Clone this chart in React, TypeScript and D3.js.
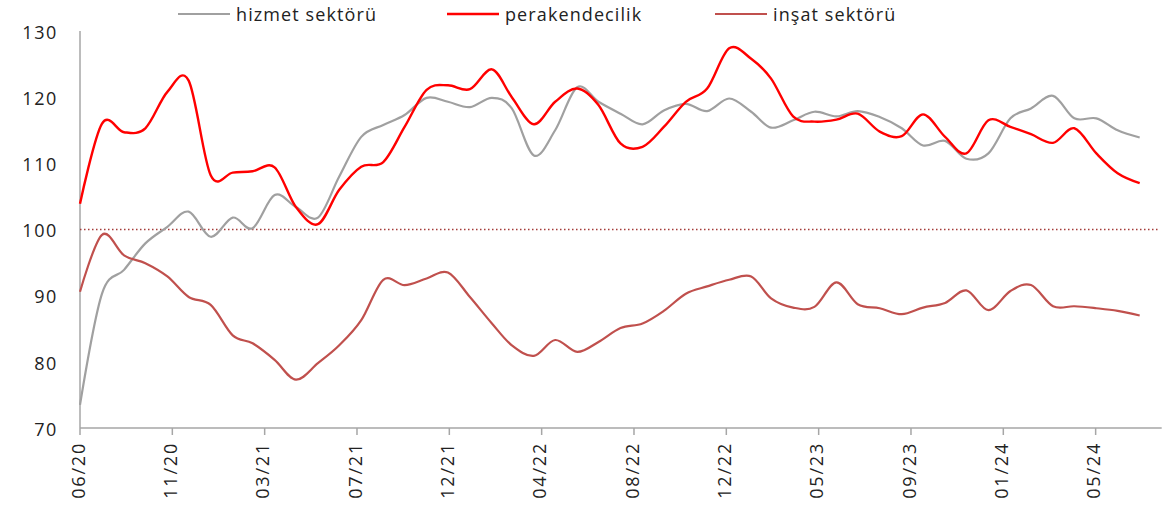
import React from "react";
import * as d3 from "d3";

// Monthly data, 06/2020 – 07/2024 (month-end dates)
const startYear = 2020;
const startMonth = 6; // June
const hizmet = [
  73.5, 90.3, 93.9, 97.9, 100.4, 102.7, 98.9, 101.8, 100.2, 105.2,
  103.4, 101.8, 108.0, 114.0, 115.8, 117.3, 119.9, 119.3, 118.5, 119.9,
  118.3, 111.2, 115.0, 121.5, 119.3, 117.5, 115.9, 118.0, 119.0, 117.9,
  119.8, 117.8, 115.4, 116.5, 117.8, 117.1, 117.9, 117.0, 115.3, 112.7,
  113.4, 110.7, 111.5, 116.8, 118.3, 120.2, 116.8, 116.8, 115.0, 113.9,
];
const perakende = [
  103.9, 116.0, 114.7, 115.3, 120.8, 122.5, 108.2, 108.6, 108.8, 109.4,
  103.4, 100.8, 106.0, 109.5, 110.2, 115.5, 121.1, 121.8, 121.2, 124.2,
  120.0, 115.9, 119.3, 121.3, 118.8, 113.0, 112.5, 115.5, 119.3, 121.3,
  127.4, 125.8, 122.8, 117.1, 116.3, 116.6, 117.5, 114.8, 114.1, 117.4,
  114.0, 111.5, 116.5, 115.5, 114.4, 113.1, 115.3, 111.5, 108.5, 107.0,
];
const insaat = [
  90.6, 99.2, 96.1, 94.9, 92.9, 89.8, 88.6, 84.0, 82.8, 80.3,
  77.3, 79.8, 82.5, 86.3, 92.4, 91.6, 92.6, 93.5, 89.8, 85.8,
  82.5, 80.9, 83.3, 81.5, 83.0, 85.1, 85.8, 87.7, 90.3, 91.4,
  92.4, 92.9, 89.6, 88.2, 88.3, 92.0, 88.7, 88.1, 87.2, 88.2,
  88.9, 90.8, 87.8, 90.7, 91.6, 88.4, 88.4, 88.1, 87.7, 87.0,
];
const seriesNames = ["hizmet sektörü", "perakendecilik", "inşat sektörü"];
const seriesColors = ["#a0a0a0", "#ff0000", "#c0504d"];
const yTicks = [70, 80, 90, 100, 110, 120, 130];
const tickLabels = ["06/20", "11/20", "03/21", "07/21", "12/21", "04/22", "08/22", "12/22", "05/23", "09/23", "01/24", "05/24"];
const tickStepDays = 130;
const referenceLevel = 100;

const W = 1173;
const H = 513;
const FONT = "'Open Sans', 'Liberation Sans', sans-serif";

export default function App() {
  const dates = hizmet.map((_, i) => new Date(startYear, startMonth + i, 0));
  const start = dates[0];
  const end = new Date(startYear, startMonth + hizmet.length, 0);
  const x = d3.scaleTime().domain([start, end]).range([80, 1161.7]);
  const y = d3.scaleLinear().domain([70, 130]).range([428, 31]);
  const line = d3
    .line<number>()
    .x((_, i) => x(dates[i]))
    .y((v) => y(v))
    .curve(d3.curveCatmullRom.alpha(0));
  const all = [hizmet, perakende, insaat];
  const widths = [2.2, 2.4, 2.2];
  const tickDates = tickLabels.map((_, k) => d3.timeDay.offset(start, tickStepDays * k));
  const legendX = [178, 447, 715];

  return (
    <svg width={W} height={H} style={{ position: "absolute", left: 0, top: 0, background: "#fff" }}>
      {/* legend */}
      {seriesNames.map((n, i) => (
        <g key={n}>
          <line x1={legendX[i]} x2={legendX[i] + 52} y1={14} y2={14} stroke={seriesColors[i]} strokeWidth={widths[i]} />
          <text x={legendX[i] + 58} y={21} fontFamily={FONT} fontSize={18} letterSpacing={1.1} fill="#222">
            {n}
          </text>
        </g>
      ))}
      {/* y axis */}
      <line x1={80} x2={80} y1={y(130)} y2={y(70)} stroke="#a6a6a6" strokeWidth={1.5} />
      {yTicks.map((t) => (
        <text key={t} x={58} y={y(t) + 3} textAnchor="end" dominantBaseline="middle" fontFamily={FONT} fontSize={18} letterSpacing={1.6} fill="#222">
          {t}
        </text>
      ))}
      {/* x axis */}
      <line x1={80} x2={1161.7} y1={y(70)} y2={y(70)} stroke="#a6a6a6" strokeWidth={1.5} />
      {tickDates.map((d, k) => (
        <g key={k} transform={`translate(${x(d)},${y(70)})`}>
          <line y1={0} y2={7} stroke="#a6a6a6" strokeWidth={1.5} />
          <text transform="translate(0,14) rotate(-90)" textAnchor="end" dominantBaseline="middle" fontFamily={FONT} fontSize={18} letterSpacing={1.8} fill="#222">
            {tickLabels[k]}
          </text>
        </g>
      ))}
      {/* reference line */}
      <line x1={80} x2={1160} y1={y(referenceLevel)} y2={y(referenceLevel)} stroke="#a33b38" strokeWidth={1.5} strokeDasharray="1.5 2.5" />
      {/* series */}
      {all.map((s, i) => (
        <path key={i} d={line(s) || ""} fill="none" stroke={seriesColors[i]} strokeWidth={widths[i]} strokeLinejoin="round" />
      ))}
    </svg>
  );
}
